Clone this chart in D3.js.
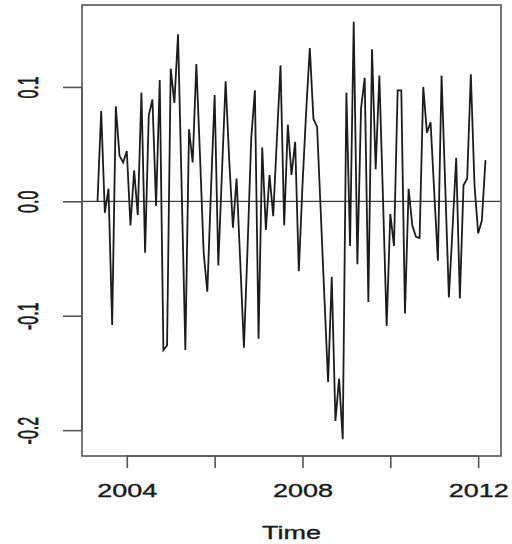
<!DOCTYPE html>
<html>
<head>
<meta charset="utf-8">
<script src="https://cdn.jsdelivr.net/npm/d3@7"></script>
<style>
  html, body { margin: 0; padding: 0; background: #fff; }
  svg { display: block; }
  text { font-family: "Liberation Sans", Arial, Helvetica, sans-serif; fill: #1a1a1a; stroke: #1a1a1a; stroke-width: 0.35px; }
</style>
</head>
<body>
<svg id="chart" width="512" height="544"></svg>
<script>
// Monthly series, May 2003 .. March 2012
const startYear = 2003;
const startMonth = 5; // May
const values = [
  0.000, 0.079, -0.010, 0.011, -0.108, 0.083, 0.040, 0.034, 0.044, -0.021,
  0.027, -0.012, 0.095, -0.045, 0.075, 0.089, -0.004, 0.106, -0.130, -0.126,
  0.116, 0.086, 0.146, 0.010, -0.130, 0.063, 0.034, 0.120, 0.040, -0.045,
  -0.079, 0.010, 0.093, -0.056, 0.025, 0.105, 0.035, -0.023, 0.020, -0.053,
  -0.128, -0.040, 0.055, 0.097, -0.120, 0.047, -0.025, 0.023, -0.013, 0.054,
  0.119, -0.021, 0.067, 0.023, 0.052, -0.061, 0.014, 0.078, 0.134, 0.072,
  0.065, -0.010, -0.085, -0.158, -0.066, -0.192, -0.155, -0.208, 0.095, -0.039,
  0.157, -0.055, 0.081, 0.108, -0.088, 0.133, 0.028, 0.110, 0.002, -0.109,
  -0.011, -0.039, 0.097, 0.097, -0.098, 0.011, -0.021, -0.031, -0.032, 0.100,
  0.060, 0.069, 0.008, -0.052, 0.110, 0.014, -0.084, -0.024, 0.038, -0.085,
  0.014, 0.020, 0.111, 0.014, -0.028, -0.017, 0.036
];
const xTicks = [2004, 2006, 2008, 2010, 2012];
const xTickLabels = ["2004", "", "2008", "", "2012"];
const yTicks = [-0.2, -0.1, 0.0, 0.1];
const yTickLabels = ["-0.2", "-0.1", "0.0", "0.1"];

const times = values.map((v, i) => startYear + (startMonth - 1 + i) / 12);
const series = values.map((v, i) => ({ t: times[i], v }));

const plot = { left: 82, right: 501, top: 5, bottom: 456 };

// 4% padding on each side of the data range
function padded(ext) {
  const d = (ext[1] - ext[0]) * 0.04;
  return [ext[0] - d, ext[1] + d];
}

const x = d3.scaleLinear().domain(padded(d3.extent(times))).range([plot.left, plot.right]);
const y = d3.scaleLinear().domain(padded(d3.extent(values))).range([plot.bottom, plot.top]);

const svg = d3.select("#chart");

// zero reference line
svg.append("line")
  .attr("x1", plot.left).attr("x2", plot.right)
  .attr("y1", y(0)).attr("y2", y(0))
  .attr("stroke", "#111").attr("stroke-width", 1);

// the series
svg.append("path")
  .datum(series)
  .attr("fill", "none")
  .attr("stroke", "#1c1c1c")
  .attr("stroke-width", 1.8)
  .attr("stroke-linejoin", "miter")
  .attr("d", d3.line().x(d => x(d.t)).y(d => y(d.v)));

// frame
svg.append("rect")
  .attr("x", plot.left).attr("y", plot.top)
  .attr("width", plot.right - plot.left).attr("height", plot.bottom - plot.top)
  .attr("fill", "none").attr("stroke", "#555").attr("stroke-width", 1.6);

// x axis
const xAxis = d3.axisBottom(x)
  .tickValues(xTicks)
  .tickSize(12)
  .tickFormat((d, i) => xTickLabels[i]);
const gx = svg.append("g").attr("transform", `translate(0,${plot.bottom})`).call(xAxis);
gx.select(".domain")
  .attr("d", `M${x(xTicks[0])},0H${x(xTicks[xTicks.length - 1])}`)
  .attr("stroke", "#555").attr("stroke-width", 1.6);
gx.selectAll(".tick line").attr("stroke", "#555").attr("stroke-width", 1.6);
gx.selectAll(".tick text")
  .attr("y", 0).attr("dy", null)
  .attr("transform", "translate(0,41) scale(1.5,1)")
  .style("font-size", "18px")
  .attr("fill", "#1a1a1a");

// y axis
const yAxis = d3.axisLeft(y)
  .tickValues(yTicks)
  .tickSize(19)
  .tickFormat((d, i) => yTickLabels[i]);
const gy = svg.append("g").attr("transform", `translate(${plot.left},0)`).call(yAxis);
gy.select(".domain")
  .attr("d", `M0,${y(yTicks[0])}V${y(yTicks[yTicks.length - 1])}`)
  .attr("stroke", "#555").attr("stroke-width", 1.6);
gy.selectAll(".tick line").attr("stroke", "#555").attr("stroke-width", 1.6);
gy.selectAll(".tick text")
  .attr("x", 0).attr("dy", null)
  .attr("text-anchor", "middle")
  .attr("transform", "translate(-44,0) scale(1.8,1) rotate(-90)")
  .style("font-size", "16px")
  .attr("fill", "#1a1a1a");

// axis title
svg.append("text")
  .attr("transform", `translate(${(plot.left + plot.right) / 2},539) scale(1.5,1)`)
  .attr("text-anchor", "middle")
  .style("font-size", "18px")
  .text("Time");

svg.selectAll(".tick text").attr("font-family", null);
</script>
</body>
</html>
